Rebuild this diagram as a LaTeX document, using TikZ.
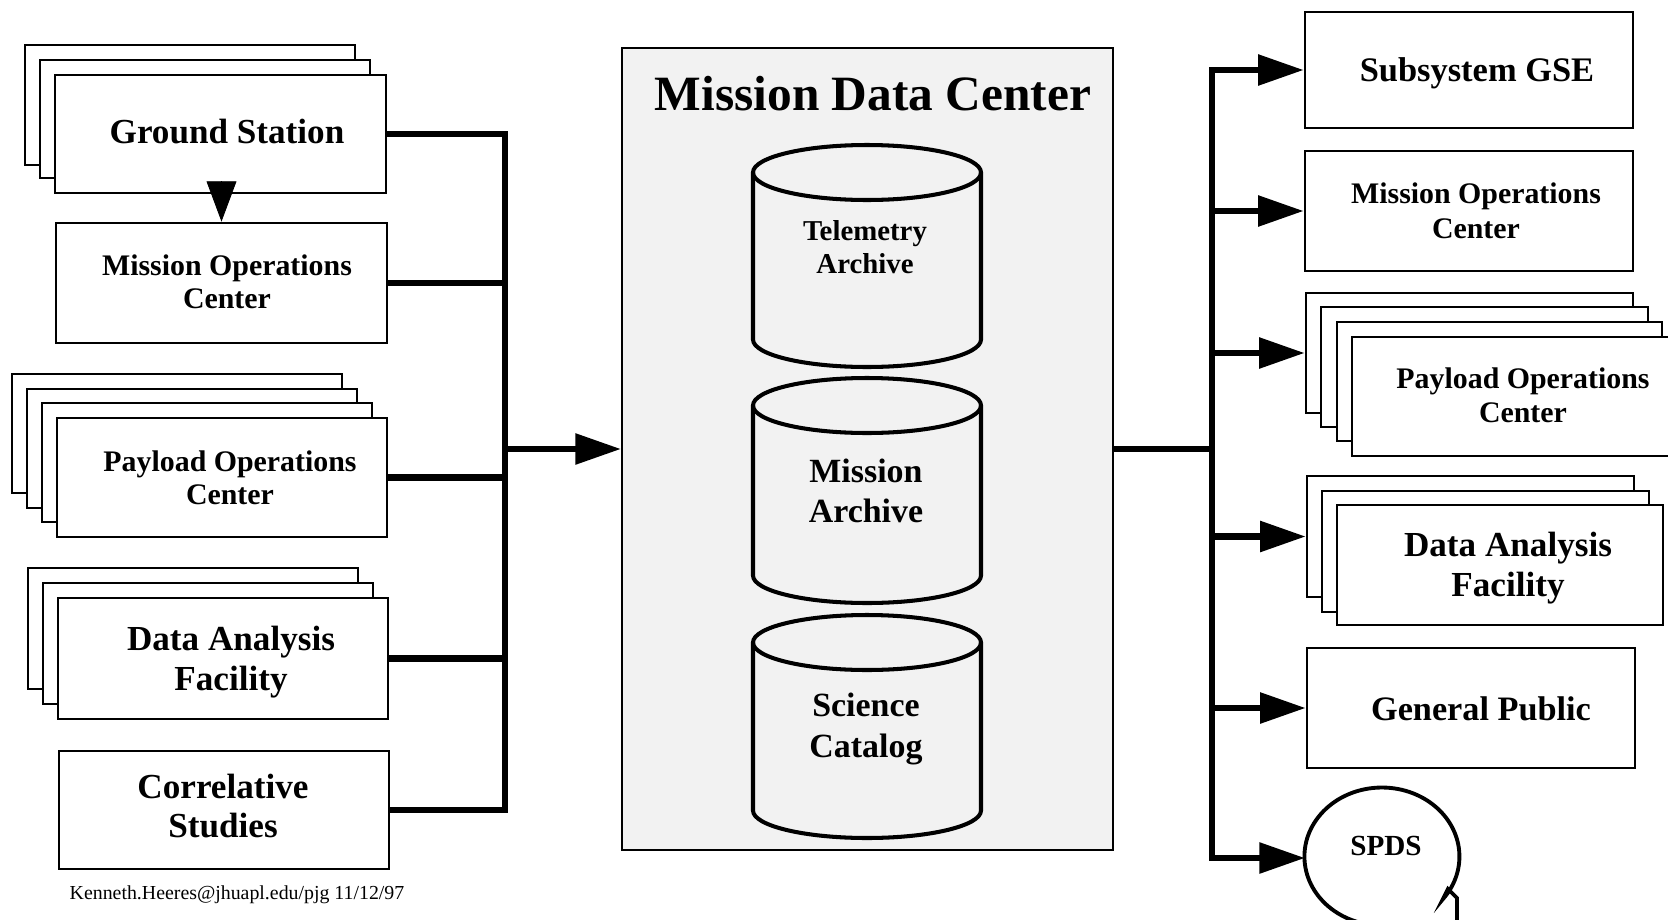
\documentclass[tikz,border=0pt]{standalone}
\usepackage{fontspec}
\setmainfont{Liberation Serif}
\usetikzlibrary{arrows.meta,fit}
\newcommand{\fsz}[2]{\fontsize{#1}{#2}\selectfont}
\begin{document}
\begin{tikzpicture}[x=0.02cm, y=-0.02cm,
  box/.style={draw, line width=1.5pt, fill=white, inner sep=0pt},
  conn/.style={line width=3.6pt},
  tip/.style={-{Triangle[length=26pt,width=17pt]}},
  cyl/.style={line width=2.3pt},
  lbl/.style={align=center, inner sep=0pt}
]
\clip (0,0) rectangle (1668,920);
\fill[white] (0,0) rectangle (1668,920);

% ---------- Mission Data Center ----------
\node[draw, line width=1.2pt, fill=black!5, inner sep=0pt, fit={(622,48) (1113,850)}] (mdc) {};
\node[lbl, font=\bfseries\fsz{28.1}{31}] (mdct) at (873,94) {Mission Data Center};

% cylinders
\draw[cyl] (753,172.5) -- (753,339.5) arc[start angle=180,end angle=0,x radius=114,y radius=27.5]
  -- (981,172.5) arc[start angle=0,end angle=-180,x radius=114,y radius=27.5] -- cycle;
\draw[cyl] (753,172.5) arc[start angle=180,end angle=0,x radius=114,y radius=27.5];
\node[lbl, font=\bfseries\fsz{16.4}{18.7}] (tel) at (865,247) {Telemetry\\Archive};

\draw[cyl] (753,405.5) -- (753,575.5) arc[start angle=180,end angle=0,x radius=114,y radius=27.5]
  -- (981,405.5) arc[start angle=0,end angle=-180,x radius=114,y radius=27.5] -- cycle;
\draw[cyl] (753,405.5) arc[start angle=180,end angle=0,x radius=114,y radius=27.5];
\node[lbl, font=\bfseries\fsz{19.3}{23}] (marc) at (866,491) {Mission\\Archive};

\draw[cyl] (753,642.5) -- (753,810.5) arc[start angle=180,end angle=0,x radius=114,y radius=27.5]
  -- (981,642.5) arc[start angle=0,end angle=-180,x radius=114,y radius=27.5] -- cycle;
\draw[cyl] (753,642.5) arc[start angle=180,end angle=0,x radius=114,y radius=27.5];
\node[lbl, font=\bfseries\fsz{19.3}{23}] (scat) at (866,729) {Science\\Catalog};

% ---------- left boxes ----------
\node[box, fit={(25,45) (355,165)}] (gs3) {};
\node[box, fit={(40,60) (370,178)}] (gs2) {};
\node[box, fit={(55,75) (386,193)}] (gs) {};
\node[lbl, font=\bfseries\fsz{20}{22}] (gst) at (227,132) {Ground Station};

\node[box, fit={(56,223) (387,343)}] (moc) {};
\node[lbl, font=\bfseries\fsz{17}{18.5}] (moct) at (227,282) {Mission Operations\\Center};

\node[box, fit={(12,374) (342,493)}] (poc4) {};
\node[box, fit={(27,389) (357,508)}] (poc3) {};
\node[box, fit={(42,403) (372,522)}] (poc2) {};
\node[box, fit={(57,418) (387,537)}] (poc) {};
\node[lbl, font=\bfseries\fsz{17}{19}] (poct) at (230,478) {Payload Operations\\Center};

\node[box, fit={(28,568) (358,689)}] (daf3) {};
\node[box, fit={(43,583) (373,704)}] (daf2) {};
\node[box, fit={(58,598) (388,719)}] (daf) {};
\node[lbl, font=\bfseries\fsz{20}{23}] (daft) at (231,662) {Data Analysis\\Facility};

\node[box, fit={(59,751) (389,869)}] (cs) {};
\node[lbl, font=\bfseries\fsz{20}{22}] (cst) at (223,806) {Correlative\\Studies};

\node[lbl, font=\fsz{11.3}{13}] (credit) at (237,895) {Kenneth.Heeres@jhuapl.edu/pjg 11/12/97};

% ---------- right boxes ----------
\node[box, fit={(1305,12) (1633,128)}] (rgse) {};
\node[lbl, font=\bfseries\fsz{19.6}{22}] (rgset) at (1477,73) {Subsystem GSE};

\node[box, fit={(1305,151) (1633,271)}] (rmoc) {};
\node[lbl, font=\bfseries\fsz{17}{20}] (rmoct) at (1476,211) {Mission Operations\\Center};

\node[box, fit={(1306,293) (1633,413)}] (rpoc) {};
\node[box, fit={(1321,307) (1648,427)}] (rpoc3) {};
\node[box, fit={(1337,322) (1662,441)}] (rpoc2) {};
\node[box, fit={(1352,337) (1694,456)}] (rpocf) {};
\node[lbl, font=\bfseries\fsz{17}{19.3}] (rpoct) at (1523,395) {Payload Operations\\Center};

\node[box, fit={(1307,476) (1634,597)}] (rdaf) {};
\node[box, fit={(1322,491) (1649,612)}] (rdaf2) {};
\node[box, fit={(1337,505) (1663,625)}] (rdaff) {};
\node[lbl, font=\bfseries\fsz{20}{22.7}] (rdaft) at (1508,568) {Data Analysis\\Facility};

\node[box, fit={(1307,648) (1635,768)}] (rgp) {};
\node[lbl, font=\bfseries\fsz{19.5}{22}] (rgpt) at (1481,709) {General Public};

% SPDS
\draw[line width=2.2pt] (1457,930) -- (1457,898) -- (1448,889) -- (1443,899)
  arc[start angle=38,end angle=-262,x radius=77.5,y radius=69];
\node[lbl, font=\bfseries\fsz{16.6}{18}] (spds) at (1386,846) {SPDS};
\coordinate (spdsin) at (1305,858);

% ---------- connectors ----------
\draw[line width=0.5pt, -{Triangle[length=23pt,width=17pt]}]
  ([yshift=0.22cm]gs.south -| moc.north) -- (moc.north);

\coordinate (lbus) at (505,0);
\draw[conn] (gs.east) -- (gs.east -| lbus) -- (cs.east -| lbus) -- (cs.east);
\draw[conn] (moc.east) -- (moc.east -| lbus);
\draw[conn] (poc.east) -- (poc.east -| lbus);
\draw[conn] (daf.east) -- (daf.east -| lbus);
\draw[conn, tip] (mdc.west -| lbus) -- (mdc.west);

\coordinate (rbus) at (1212,0);
\draw[conn] (mdc.east) -- (mdc.east -| rbus);
\draw[conn, {Triangle[length=26pt,width=17pt]}-{Triangle[length=26pt,width=17pt]}]
  (rgse.west) -- (rgse.west -| rbus) -- (spdsin -| rbus) -- (spdsin);
\draw[conn, tip] (rmoc.west -| rbus) -- (rmoc.west);
\draw[conn, tip] (rpoc.west -| rbus) -- (rpoc.west);
\draw[conn, tip] (rdaf.west -| rbus) -- (rdaf.west);
\draw[conn, tip] (rgp.west -| rbus) -- (rgp.west);
\end{tikzpicture}
\end{document}
